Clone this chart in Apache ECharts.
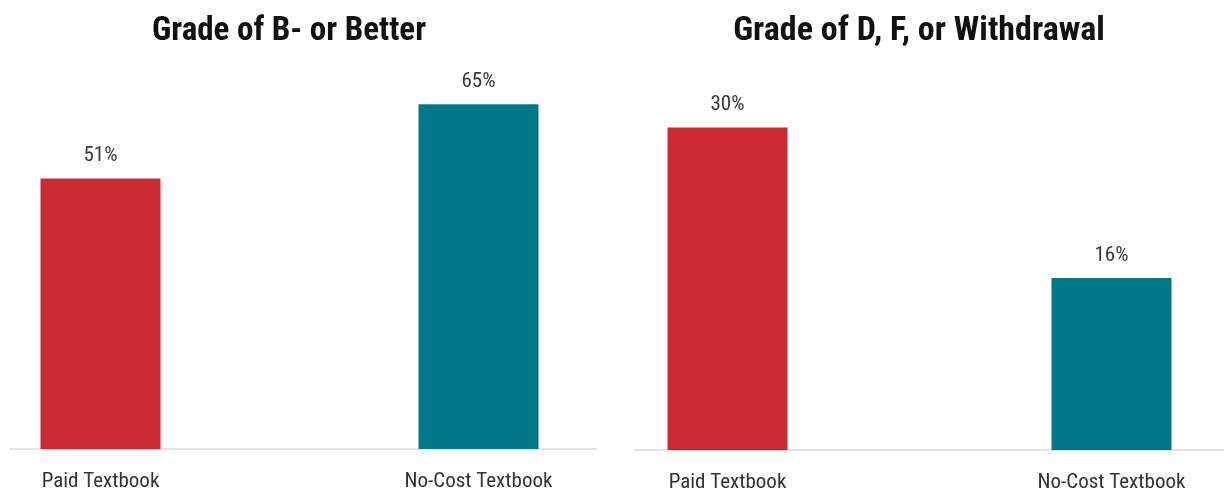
<!DOCTYPE html>
<html>
<head>
<meta charset="utf-8">
<script src="https://cdn.jsdelivr.net/npm/echarts@6/dist/echarts.min.js"></script>
<style>
html,body{margin:0;padding:0;background:#fff;}
#c{width:1224px;height:494px;}
</style>
</head>
<body>
<div id="c"></div>
<script>
const categories = ['Paid Textbook', 'No-Cost Textbook'];
const titles = ['Grade of B- or Better', 'Grade of D, F, or Withdrawal'];
const betterValues = [51, 65];
const dfwValues = [30, 16];
const barColors = ['#CC2B31', '#00788A'];

const FONT = "'Liberation Sans Narrow', 'Roboto Condensed', 'DejaVu Sans Condensed', Roboto, sans-serif";

const chart = echarts.init(document.getElementById('c'), null, {renderer: 'canvas'});

function barSeries(values, idx) {
  return {
    type: 'bar',
    xAxisIndex: idx, yAxisIndex: idx,
    barWidth: 120,
    data: values.map((v, i) => ({value: v, itemStyle: {color: barColors[i]}})),
    label: {
      show: true, position: 'top', distance: 12,
      formatter: '{c}%',
      fontFamily: FONT, fontSize: 21, color: '#3a3a3a'
    },
    silent: true
  };
}

const catAxis = (gi) => ({
  type: 'category', gridIndex: gi, data: categories, boundaryGap: false,
  axisLine: {show: false}, axisTick: {show: false},
  axisLabel: {fontFamily: FONT, fontSize: 21, color: '#333', margin: 22},
  splitLine: {show: false}
});
const lineAxis = (gi) => ({
  type: 'value', gridIndex: gi, min: 0, max: 1,
  axisLine: {show: true, lineStyle: {color: '#E3E3E3', width: 2}},
  axisTick: {show: false}, axisLabel: {show: false}, splitLine: {show: false}
});
const hiddenY = (gi, max) => ({
  type: 'value', gridIndex: gi, min: 0, max: max,
  show: false, splitLine: {show: false}
});

chart.setOption({
  animation: false,
  backgroundColor: '#fff',
  title: [
    {text: titles[0], left: 284, top: 10, textAlign: 'center',
     textStyle: {fontFamily: FONT, fontWeight: 'bold', fontSize: 33, color: '#111'}},
    {text: titles[1], left: 914, top: 9, textAlign: 'center',
     textStyle: {fontFamily: FONT, fontWeight: 'bold', fontSize: 34, color: '#111'}}
  ],
  grid: [
    {left: 100.5, right: 1224 - 478.5, top: 24.6, bottom: 45},
    {left: 727.5, right: 1224 - 1111.5, top: 20, bottom: 44},
    {left: 10, right: 1224 - 596, top: 24.6, bottom: 45},
    {left: 635, right: 0, top: 20, bottom: 44}
  ],
  xAxis: [catAxis(0), catAxis(1), lineAxis(2), lineAxis(3)],
  yAxis: [hiddenY(0, 80), hiddenY(1, 40), hiddenY(2, 1), hiddenY(3, 1)],
  series: [barSeries(betterValues, 0), barSeries(dfwValues, 1)]
});
</script>
</body>
</html>
